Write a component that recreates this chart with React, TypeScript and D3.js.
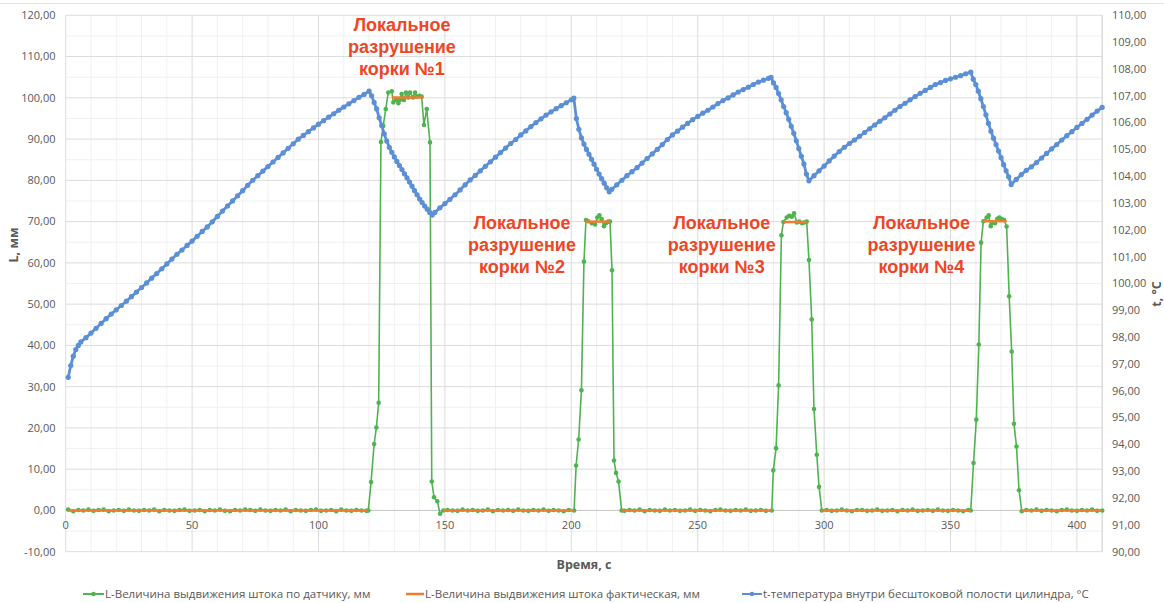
import React from 'react';
import * as d3 from 'd3';

type Pt = [number, number];

const W = 1164;
const H = 603;

// axis ticks
const timeTicks = [0, 50, 100, 150, 200, 250, 300, 350, 400];
const lTicks = [-10, 0, 10, 20, 30, 40, 50, 60, 70, 80, 90, 100, 110, 120];
const tTicks = [90, 91, 92, 93, 94, 95, 96, 97, 98, 99, 100, 101, 102, 103, 104, 105, 106, 107, 108, 109, 110];

// L по датчику, мм — baseline readings every 2 s
const sensorBaseStarts = [1, 151, 221, 301, 380];
const sensorBase1 = [
  0.2, -0.2, 0.1, 0.0, 0.2, -0.1, 0.1, 0.2, -0.2, 0.0,
  0.1, -0.1, 0.2, 0.0, -0.1, 0.1, 0.0, 0.2, -0.2, 0.1,
  0.0, -0.1, 0.1, 0.2, -0.1, 0.0, 0.1, -0.2, 0.1, 0.0,
  0.2, -0.1, -0.2, 0.1, 0.0, 0.2, 0.1, -0.1, 0.2, 0.0,
  -0.1, 0.1, 0.0, 0.2, -0.2, 0.1, 0.0, -0.1, 0.1, 0.2,
  -0.1, 0.0, 0.1, -0.2, 0.2, 0.0, -0.1, 0.1, 0.0, -0.1,
];
const sensorBase2 = [
  0.1, 0.0, -0.1, 0.2, 0.0, 0.1, -0.1, 0.0, 0.2, -0.2,
  0.1, 0.0, 0.1, -0.1, 0.2, 0.0, -0.1, 0.1, 0.0, 0.2,
  -0.1, 0.1, 0.0, -0.2, 0.1,
];
const sensorBase3 = [
  -0.1, 0.1, 0.0, 0.2, -0.2, 0.1, 0.0, -0.1, 0.2, 0.0,
  0.1, -0.1, 0.0, 0.2, -0.1, 0.1, 0.0, -0.2, 0.1, 0.2,
  0.0, -0.1, 0.1, 0.0, 0.2, -0.1, 0.0, 0.1, -0.1,
];
const sensorBase4 = [
  0.1, -0.1, 0.0, 0.2, 0.0, -0.2, 0.1, 0.1, -0.1, 0.0,
  0.2, -0.1, 0.0, 0.1, -0.2, 0.1, 0.0, 0.2, -0.1, 0.0,
  0.1, -0.1, 0.2, 0.0, -0.1, 0.1, 0.0, -0.2, 0.1,
];
const sensorBase5 = [
  0.1, 0.0, 0.2, -0.1, 0.1, 0.0, -0.2, 0.1, 0.2, 0.0,
  -0.1, 0.1, 0.0, 0.2, -0.1, 0.0,
];

// L по датчику, мм — the four crust failures [time, mm]
const sensorEvent1: Pt[] = [
  [119.7, 0.0], [120.8, 6.9], [122.0, 16.1], [122.9, 20.1], [123.8, 26.1], [124.7, 89.3],
  [125.6, 93.2], [126.6, 97.3], [127.6, 101.3], [129.0, 101.6], [129.6, 98.9], [130.7, 99.5],
  [131.6, 98.7], [132.2, 99.5], [132.9, 100.9], [133.8, 99.5], [134.6, 101.3], [135.5, 100.1],
  [136.2, 101.3], [137.3, 100.1], [138.2, 101.3], [138.8, 100.3], [139.9, 100.5], [140.8, 100.3],
  [141.7, 93.4], [142.8, 97.3], [144.1, 89.2], [144.8, 7.0], [145.7, 3.2], [147.0, 2.2],
  [148.1, -0.8], [149.4, 0.0],
];
const sensorEvent2: Pt[] = [
  [201.1, 0.0], [201.9, 10.9], [202.9, 17.2], [204.0, 29.1], [205.0, 60.3], [205.8, 70.4],
  [206.7, 70.1], [208.1, 69.6], [209.4, 69.3], [210.3, 71.0], [211.1, 71.5], [212.0, 70.6],
  [212.9, 68.9], [213.7, 69.6], [214.6, 70.0], [215.3, 70.0], [216.1, 58.2], [216.9, 12.1],
  [217.7, 9.1], [218.7, 7.0], [219.9, 0.0],
];
const sensorEvent3: Pt[] = [
  [279.3, 0.0], [279.9, 9.7], [281.0, 15.1], [282.0, 30.3], [283.1, 66.7], [283.9, 69.9],
  [285.2, 71.0], [286.2, 71.4], [287.2, 71.2], [288.1, 72.0], [289.2, 69.8], [290.2, 70.0],
  [291.3, 69.6], [292.1, 69.8], [293.1, 70.0], [294.0, 60.7], [295.1, 46.3], [296.0, 24.6],
  [297.1, 13.5], [298.0, 5.7], [299.1, 0.0],
];
const sensorEvent4: Pt[] = [
  [358.0, 0.0], [359.1, 11.5], [360.2, 22.0], [361.2, 40.2], [362.1, 64.9], [363.0, 70.1],
  [364.3, 71.0], [365.1, 71.5], [365.9, 68.9], [366.7, 69.8], [367.6, 69.6], [368.5, 70.7],
  [369.3, 71.0], [370.3, 70.6], [371.2, 70.4], [372.2, 68.8], [373.2, 51.9], [374.2, 38.5],
  [375.1, 21.0], [376.1, 15.5], [377.1, 4.9], [378.2, -0.2],
];

// L фактическая, мм — constant stretches
const actualFrom = [1, 129.0, 149.4, 205.8, 219.9, 283.9, 299.1, 363.0, 378.2];
const actualTo = [119.7, 141.5, 201.1, 215.3, 279.3, 293.1, 358.0, 372.2, 410];
const actualValue = [0, 100.1, 0, 70.0, 0, 69.9, 0, 70.1, 0];

// t внутри бесштоковой полости, °C [time, °C]
const tempRise1: Pt[] = [
  [1, 96.5], [2, 96.94], [3, 97.29], [4, 97.54], [5, 97.69], [6, 97.82], [8, 97.98], [10, 98.15],
  [12, 98.33], [14, 98.51], [16, 98.69], [18, 98.86], [20, 99.02], [22, 99.18], [24, 99.34],
  [26, 99.51], [28, 99.68], [30, 99.85], [32, 100.02], [34, 100.2], [36, 100.37], [38, 100.55],
  [40, 100.73], [42, 100.91], [44, 101.09], [46, 101.25], [48, 101.42], [50, 101.58], [52, 101.76],
  [54, 101.94], [56, 102.11], [58, 102.3], [60, 102.5], [62, 102.7], [64, 102.89], [66, 103.08],
  [68, 103.27], [70, 103.46], [72, 103.66], [74, 103.85], [76, 104.02], [78, 104.19], [80, 104.36],
  [82, 104.53], [84, 104.7], [86, 104.87], [88, 105.04], [90, 105.21], [92, 105.38], [94, 105.52],
  [96, 105.66], [98, 105.8], [100, 105.94], [102, 106.07], [104, 106.2], [106, 106.33], [108, 106.46],
  [110, 106.58], [112, 106.7], [114, 106.82], [116, 106.94], [118, 107.05], [120, 107.17],
];
const tempFall1: Pt[] = [
  [121, 107.0], [122, 106.75], [123, 106.51], [124, 106.18], [125, 105.89], [126, 105.58],
  [127, 105.31], [128, 105.08], [129, 104.89], [130, 104.72], [131, 104.55], [132, 104.4],
  [133, 104.25], [134, 104.09], [135, 103.94], [136, 103.78], [137, 103.63], [138, 103.46],
  [139, 103.31], [140, 103.15], [141, 103.02], [142, 102.89], [143, 102.77], [144, 102.65],
  [145, 102.55],
];
const tempRise2: Pt[] = [
  [146, 102.65], [148, 102.82], [150, 102.98], [152, 103.14], [154, 103.31], [156, 103.49],
  [158, 103.68], [160, 103.86], [162, 104.03], [164, 104.2], [166, 104.37], [168, 104.54],
  [170, 104.71], [172, 104.88], [174, 105.05], [176, 105.22], [178, 105.37], [180, 105.54],
  [182, 105.69], [184, 105.85], [186, 106.0], [188, 106.14], [190, 106.28], [192, 106.4],
  [194, 106.52], [196, 106.63], [198, 106.74], [200, 106.85], [201, 106.91],
];
const tempFall2: Pt[] = [
  [202, 106.15], [203, 105.75], [204, 105.43], [205, 105.2], [206, 105.0], [207, 104.82],
  [208, 104.63], [209, 104.45], [210, 104.26], [211, 104.08], [212, 103.91], [213, 103.74],
  [214, 103.57], [215, 103.42],
];
const tempRise3: Pt[] = [
  [216, 103.51], [218, 103.68], [220, 103.85], [222, 104.02], [224, 104.17], [226, 104.32],
  [228, 104.49], [230, 104.66], [232, 104.83], [234, 105.0], [236, 105.18], [238, 105.37],
  [240, 105.54], [242, 105.68], [244, 105.83], [246, 105.97], [248, 106.11], [250, 106.23],
  [252, 106.35], [254, 106.46], [256, 106.58], [258, 106.71], [260, 106.82], [262, 106.92],
  [264, 107.03], [266, 107.14], [268, 107.23], [270, 107.32], [272, 107.42], [274, 107.51],
  [276, 107.58], [278, 107.65], [279, 107.69],
];
const tempFall3: Pt[] = [
  [280, 107.48], [281, 107.31], [282, 107.08], [283, 106.85], [284, 106.6], [285, 106.37],
  [286, 106.12], [287, 105.86], [288, 105.6], [289, 105.32], [290, 105.03], [291, 104.74],
  [292, 104.46], [293, 104.08], [294, 103.83],
];
const tempRise4: Pt[] = [
  [296, 104.02], [298, 104.2], [300, 104.38], [302, 104.57], [304, 104.75], [306, 104.92],
  [308, 105.08], [310, 105.22], [312, 105.35], [314, 105.49], [316, 105.63], [318, 105.77],
  [320, 105.91], [322, 106.05], [324, 106.18], [326, 106.32], [328, 106.46], [330, 106.6],
  [332, 106.72], [334, 106.85], [336, 106.97], [338, 107.09], [340, 107.2], [342, 107.31],
  [344, 107.42], [346, 107.49], [348, 107.57], [350, 107.63], [352, 107.69], [354, 107.75],
  [356, 107.82], [358, 107.88],
];
const tempFall4: Pt[] = [
  [359, 107.62], [360, 107.42], [361, 107.17], [362, 106.89], [363, 106.6], [364, 106.29],
  [365, 105.97], [366, 105.68], [367, 105.42], [368, 105.18], [369, 104.94], [370, 104.69],
  [371, 104.43], [372, 104.2], [373, 103.98], [374, 103.69],
];
const tempRise5: Pt[] = [
  [376, 103.88], [378, 104.06], [380, 104.22], [382, 104.35], [384, 104.51], [386, 104.68],
  [388, 104.85], [390, 105.02], [392, 105.18], [394, 105.35], [396, 105.51], [398, 105.66],
  [400, 105.82], [402, 105.97], [404, 106.12], [406, 106.28], [408, 106.43], [410, 106.57],
];

// annotations
const noteLines = ['Локальное', 'разрушение'];
const noteNumbers = ['корки №1', 'корки №2', 'корки №3', 'корки №4'];
const noteTimes = [133, 180.5, 259.5, 338.5];
const noteTops = [118, 70];

const legendNames = [
  'L-Величина выдвижения штока по датчику, мм',
  'L-Величина выдвижения штока фактическая, мм',
  't-температура внутри бесштоковой полости цилиндра, °C',
];

const GREEN = '#4db450';
const ORANGE = '#ed7d31';
const BLUE = '#5b8fd6';
const RED = '#ee4625';
const LABEL = '#595959';
const FONT = '"Open Sans", "Liberation Sans", sans-serif';

const toBase = (start: number, vals: number[]): Pt[] => vals.map((v, i) => [start + 2 * i, v]);

const sensorSeries: Pt[] = [
  ...toBase(sensorBaseStarts[0], sensorBase1),
  ...sensorEvent1,
  ...toBase(sensorBaseStarts[1], sensorBase2),
  ...sensorEvent2,
  ...toBase(sensorBaseStarts[2], sensorBase3),
  ...sensorEvent3,
  ...toBase(sensorBaseStarts[3], sensorBase4),
  ...sensorEvent4,
  ...toBase(sensorBaseStarts[4], sensorBase5),
];
const tempSeries: Pt[] = [
  ...tempRise1, ...tempFall1, ...tempRise2, ...tempFall2, ...tempRise3,
  ...tempFall3, ...tempRise4, ...tempFall4, ...tempRise5,
];

const fmt = (v: number) => v.toFixed(2).replace('.', ',');

export default function App() {
  const x = d3.scaleLinear().domain([0, 410]).range([65.7, 1102.2]);
  const yL = d3.scaleLinear().domain([-10, 120]).range([551.7, 15.3]);
  const yT = d3.scaleLinear().domain([90, 110]).range([551.7, 15.3]);

  const lineL = d3.line<Pt>().x((d) => x(d[0])).y((d) => yL(d[1]));
  const lineT = d3.line<Pt>().x((d) => x(d[0])).y((d) => yT(d[1]));

  const minorX = d3.range(10, 411, 10).filter((v) => v % 50 !== 0);
  const minorY = d3.range(-5, 120, 10);

  return (
    <div style={{ position: 'absolute', left: 0, top: 0 }}>
      <svg width={W} height={H} style={{ display: 'block', background: '#fff' }}>
        <line x1={0} x2={W} y1={3.5} y2={3.5} stroke="#e3e3e3" />

        {/* gridlines */}
        <g>
          {minorX.map((v) => (
            <line key={'mx' + v} x1={x(v)} x2={x(v)} y1={yL(120)} y2={yL(-10)} stroke="#f0f0f0" />
          ))}
          {minorY.map((v) => (
            <line key={'my' + v} x1={x(0)} x2={x(410)} y1={yL(v)} y2={yL(v)} stroke="#f0f0f0" />
          ))}
          {timeTicks.map((v) => (
            <line key={'gx' + v} x1={x(v)} x2={x(v)} y1={yL(120)} y2={yL(-10)} stroke="#dcdcdc" />
          ))}
          {lTicks.map((v) => (
            <line key={'gy' + v} x1={x(0)} x2={x(410)} y1={yL(v)} y2={yL(v)} stroke="#dcdcdc" />
          ))}
          <line x1={x(410)} x2={x(410)} y1={yL(120)} y2={yL(-10)} stroke="#d0d0d0" />
          <line x1={x(0)} x2={x(410)} y1={yL(0)} y2={yL(0)} stroke="#c8c8c8" />
        </g>

        {/* tick labels */}
        <g fontFamily={FONT} fontSize={11} fill={LABEL}>
          {lTicks.map((v) => (
            <text key={'l' + v} x={55.5} y={yL(v)} dy="0.35em" textAnchor="end">
              {fmt(v)}
            </text>
          ))}
          {tTicks.map((v) => (
            <text key={'t' + v} x={1112} y={yT(v)} dy="0.35em">
              {fmt(v)}
            </text>
          ))}
          {timeTicks.map((v) => (
            <text key={'x' + v} x={x(v)} y={525} dy="0.35em" textAnchor="middle">
              {v}
            </text>
          ))}
        </g>

        {/* axis titles */}
        <g fontFamily={FONT} fontSize={12.5} fontWeight="bold" fill={LABEL}>
          <text transform="translate(14,245) rotate(-90)" dy="0.35em" textAnchor="middle">
            L, мм
          </text>
          <text transform="translate(1157,294) rotate(-90)" dy="0.35em" textAnchor="middle">
            t, °C
          </text>
          <text x={584} y={565} dy="0.35em" textAnchor="middle">
            Время, с
          </text>
        </g>

        {/* sensor stroke */}
        <path d={lineL(sensorSeries) ?? ''} fill="none" stroke={GREEN} strokeWidth={1.6} strokeLinejoin="round" />
        {sensorSeries.map((d, i) => (
          <circle key={'g' + i} cx={x(d[0])} cy={yL(d[1])} r={2.3} fill={GREEN} />
        ))}

        {/* actual stroke */}
        {actualFrom.map((f, i) => (
          <line
            key={'o' + i}
            x1={x(f)}
            x2={x(actualTo[i])}
            y1={yL(actualValue[i])}
            y2={yL(actualValue[i])}
            stroke={ORANGE}
            strokeWidth={2.5}
          />
        ))}

        {/* temperature */}
        <path d={lineT(tempSeries) ?? ''} fill="none" stroke={BLUE} strokeWidth={2.8} strokeLinejoin="round" />
        {tempSeries.map((d, i) => (
          <circle key={'b' + i} cx={x(d[0])} cy={yT(d[1])} r={2.6} fill={BLUE} />
        ))}

        {/* annotations */}
        <g fontFamily='"Liberation Sans", Arial, sans-serif' fontSize={18} fontWeight="bold" fill={RED} textAnchor="middle">
          {noteNumbers.map((n, i) => {
            const cx = x(noteTimes[i]);
            const top = yL(noteTops[i === 0 ? 0 : 1]);
            return (
              <g key={'n' + i}>
                {[...noteLines, n].map((s, j) => (
                  <text key={j} x={cx} y={top + 1 + j * 22} dy="0.35em">
                    {s}
                  </text>
                ))}
              </g>
            );
          })}
        </g>

        {/* legend */}
        <g fontFamily={FONT} fontSize={11.5} fill={LABEL}>
          <line x1={83} x2={104} y1={594} y2={594} stroke={GREEN} strokeWidth={2} />
          <circle cx={93.5} cy={594} r={2.3} fill={GREEN} />
          <text x={105} y={594} dy="0.35em">{legendNames[0]}</text>
          <line x1={406} x2={424} y1={594} y2={594} stroke={ORANGE} strokeWidth={2.5} />
          <text x={425} y={594} dy="0.35em">{legendNames[1]}</text>
          <line x1={742} x2={762} y1={594} y2={594} stroke={BLUE} strokeWidth={2} />
          <circle cx={752} cy={594} r={2.3} fill={BLUE} />
          <text x={763} y={594} dy="0.35em">{legendNames[2]}</text>
        </g>
      </svg>
    </div>
  );
}
